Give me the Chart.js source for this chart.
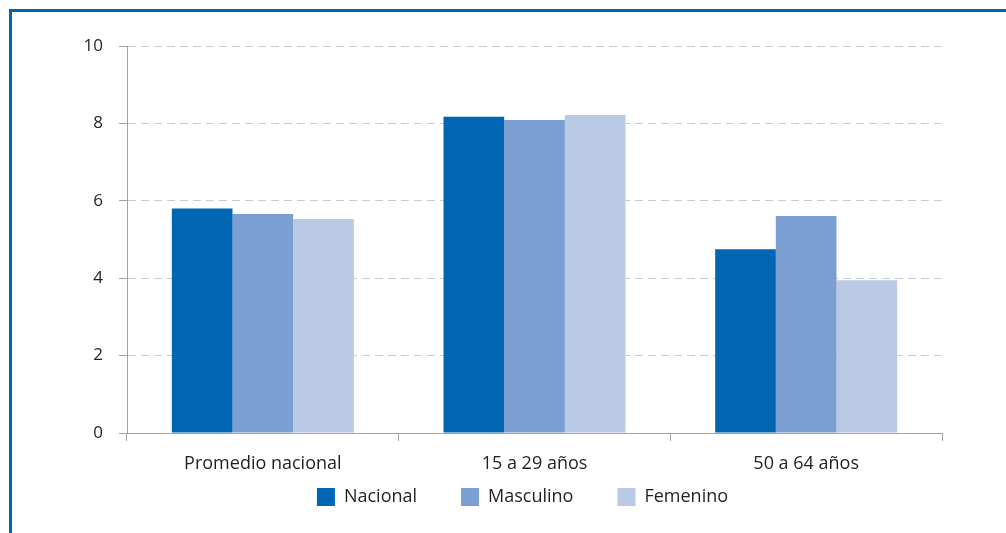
<!DOCTYPE html>
<html>
<head>
<meta charset="utf-8">
<script src="https://cdn.jsdelivr.net/npm/chart.js@4"></script>
<style>
  html, body { margin: 0; background: #fff; overflow: hidden; }
  #frame {
    position: absolute; left: 9px; top: 9px;
    width: 994px; height: 543px;
    border-top: 3px solid #0066b3;
    border-left: 3px solid #0066b3;
  }
  canvas { display: block; }
</style>
</head>
<body>
<div id="frame"><canvas id="myChart" width="994" height="543"></canvas></div>
<script>
// chart data
var categories = ['Promedio nacional', '15 a 29 años', '50 a 64 años'];
var nacional = [5.8, 8.17, 4.75];
var masculino = [5.66, 8.09, 5.61];
var femenino = [5.53, 8.22, 3.95];
var yTicks = [0, 2, 4, 6, 8, 10];

var textColor = '#231f20';
var axisColor = '#a3a3a3';

// move the legend up under the axis labels and centre it like the original
var legendPlacer = {
  id: 'legendPlacer',
  afterLayout: function(chart) {
    var lg = chart.legend;
    var h = lg.height;
    lg.top = chart.chartArea.bottom + 11;
    lg.bottom = lg.top + h;
    lg.left = chart.chartArea.left - 24;
    lg.right = chart.chartArea.right;
  }
};

var ctx = document.getElementById('myChart').getContext('2d');
var chart = new Chart(ctx, {
  type: 'bar',
  data: {
    labels: categories,
    datasets: [
      { label: 'Nacional', data: nacional, backgroundColor: '#0066b3' },
      { label: 'Masculino', data: masculino, backgroundColor: '#7b9fd2' },
      { label: 'Femenino', data: femenino, backgroundColor: '#b9c9e6' }
    ]
  },
  plugins: [legendPlacer],
  options: {
    responsive: false,
    animation: false,
    layout: { padding: { left: 0, right: 64, top: 34, bottom: 0 } },
    datasets: { bar: { barPercentage: 1, categoryPercentage: 0.67 } },
    plugins: {
      tooltip: { enabled: false },
      legend: {
        position: 'bottom',
        labels: {
          boxWidth: 18, boxHeight: 18, padding: 44,
          color: textColor,
          font: { family: 'Open Sans', size: 18 }
        }
      }
    },
    scales: {
      x: {
        border: { color: axisColor, width: 1 },
        grid: { drawOnChartArea: false, drawTicks: true, tickLength: 8, color: axisColor },
        ticks: { color: textColor, padding: 12, font: { family: 'Open Sans', size: 18 } },
        afterFit: function(scale) { scale.height = 50; }
      },
      y: {
        min: 0, max: 10,
        border: { color: axisColor, width: 1, dash: [8, 5] },
        grid: {
          color: '#cbcbcb', tickLength: 8,
          tickColor: axisColor, tickBorderDash: []
        },
        afterBuildTicks: function(scale) {
          scale.ticks = yTicks.map(function(v) { return { value: v }; });
        },
        ticks: { color: textColor, padding: 16, font: { family: 'Open Sans', size: 17 } },
        afterFit: function(scale) { scale.width = 115; }
      }
    }
  }
});
</script>
</body>
</html>
